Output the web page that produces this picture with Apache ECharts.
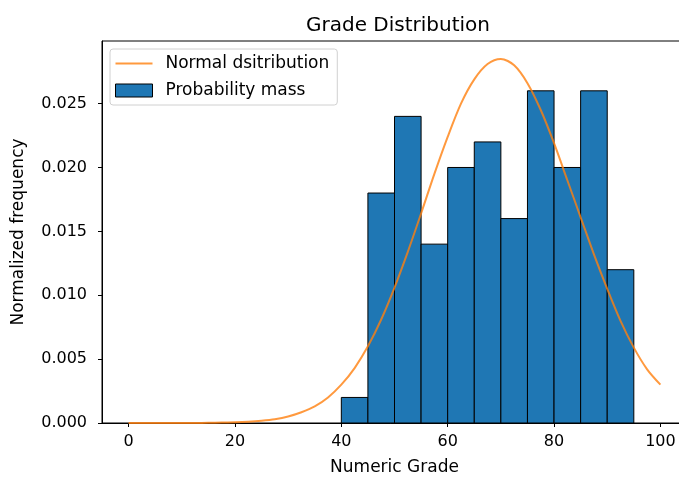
<!DOCTYPE html>
<html>
<head>
<meta charset="utf-8">
<script src="https://cdn.jsdelivr.net/npm/echarts@6/dist/echarts.min.js"></script>
<style>
  html, body { margin: 0; padding: 0; background: #fff; }
  #chart { width: 679px; height: 477px; }
</style>
</head>
<body>
<div id="chart"></div>
<script>
  // histogram bins (left edge), width 5
  var binStarts = [40, 45, 50, 55, 60, 65, 70, 75, 80, 85, 90];
  var binMass = [0.002, 0.018, 0.024, 0.014, 0.020, 0.022, 0.016, 0.026, 0.020, 0.026, 0.012];
  var binWidth = 5;

  // normal curve
  var curveX = [0, 2.5, 5, 7.5, 10, 12.5, 15, 17.5, 20, 22.5, 25, 27.5, 30, 32.5, 35, 37.5, 40, 42.5, 45, 47.5,
    50, 52.5, 55, 57.5, 60, 62.5, 65, 67.5, 70, 72.5, 75, 77.5, 80, 82.5, 85, 87.5, 90, 92.5, 95, 97.5, 100];
  var curveY = [0, 0, 0, 0, 0.000003, 0.000006, 0.000014, 0.00003, 0.000052, 0.0001, 0.00018, 0.0003, 0.00051, 0.00084, 0.0013, 0.002, 0.003, 0.0043, 0.006, 0.0081,
    0.0106, 0.0134, 0.0164, 0.0195, 0.0224, 0.025, 0.0269, 0.0281, 0.0285, 0.0280, 0.0266, 0.0245, 0.0219, 0.019, 0.0161, 0.0132, 0.0105, 0.008, 0.0059, 0.0042, 0.003];

  var xTicks = [0, 20, 40, 60, 80, 100];
  var yTicks = [0, 0.005, 0.010, 0.015, 0.020, 0.025];

  var font = 'DejaVu Sans';
  var orange = 'rgba(255,127,14,0.8)';
  var myChart = echarts.init(document.getElementById('chart'));

  var histData = binStarts.map(function (s, i) { return [s, s + binWidth, binMass[i]]; });
  var lineData = curveX.map(function (x, i) { return [x, curveY[i]]; });

  myChart.setOption({
    animation: false,
    textStyle: { fontFamily: font },
    title: {
      text: 'Grade Distribution',
      left: 393, top: 11, textAlign: 'center',
      textStyle: { fontFamily: font, fontSize: 20, fontWeight: 'normal', color: '#000' }
    },
    legend: {
      orient: 'vertical',
      left: 110, top: 49,
      padding: [6, 8, 6, 5],
      itemGap: 10,
      itemWidth: 37, itemHeight: 13,
      symbolKeepAspect: true,
      backgroundColor: '#fff',
      borderColor: '#d0d0d0', borderWidth: 1, borderRadius: 3,
      textStyle: { fontFamily: font, fontSize: 17, color: '#000', padding: [0, 0, 0, 8] },
      data: [
        { name: 'Normal dsitribution', icon: 'path://M0,0 L38,0 L38,2.2 L0,2.2 Z', itemStyle: { color: orange, borderWidth: 0 } },
        { name: 'Probability mass', icon: 'rect', itemStyle: { color: '#1f77b4', borderColor: '#000', borderWidth: 1 } }
      ]
    },
    grid: {
      left: 102, right: -8, top: 41, bottom: 54,
      outerBoundsMode: 'none',
      show: true, borderColor: '#000', borderWidth: 1
    },
    xAxis: {
      type: 'value', min: -5, max: 105,
      name: 'Numeric Grade', nameLocation: 'middle', nameGap: 36,
      nameTextStyle: { fontFamily: font, fontSize: 17, color: '#000' },
      axisLine: { show: true, onZero: false, lineStyle: { color: '#000' } },
      axisTick: { show: true, length: 4, customValues: xTicks, lineStyle: { color: '#000' } },
      axisLabel: { fontFamily: font, fontSize: 16, color: '#000', margin: 11, customValues: xTicks },
      splitLine: { show: false }
    },
    yAxis: {
      type: 'value', min: 0, max: 0.0299,
      name: 'Normalized frequency', nameLocation: 'middle', nameGap: 75,
      nameTextStyle: { fontFamily: font, fontSize: 17, color: '#000' },
      axisLine: { show: true, onZero: false, lineStyle: { color: '#000' } },
      axisTick: { show: true, length: 4, customValues: yTicks, lineStyle: { color: '#000' } },
      axisLabel: {
        fontFamily: font, fontSize: 16, color: '#000', margin: 15, customValues: yTicks,
        formatter: function (v) { return v.toFixed(3); }
      },
      splitLine: { show: false }
    },
    series: [
      {
        name: 'Probability mass',
        type: 'custom',
        z: 1,
        encode: { x: [0, 1], y: 2 },
        data: histData,
        renderItem: function (params, api) {
          var p0 = api.coord([api.value(0), api.value(2)]);
          var p1 = api.coord([api.value(1), 0]);
          return {
            type: 'rect',
            shape: { x: p0[0], y: p0[1], width: p1[0] - p0[0], height: p1[1] - p0[1] },
            style: { fill: '#1f77b4', stroke: '#000', lineWidth: 1 }
          };
        }
      },
      {
        name: 'Normal dsitribution',
        type: 'line',
        z: 3,
        data: lineData,
        smooth: 0.3,
        symbol: 'none',
        showSymbol: false,
        lineStyle: { color: orange, width: 2, join: 'round' },
        itemStyle: { color: orange }
      }
    ]
  });
</script>
</body>
</html>
